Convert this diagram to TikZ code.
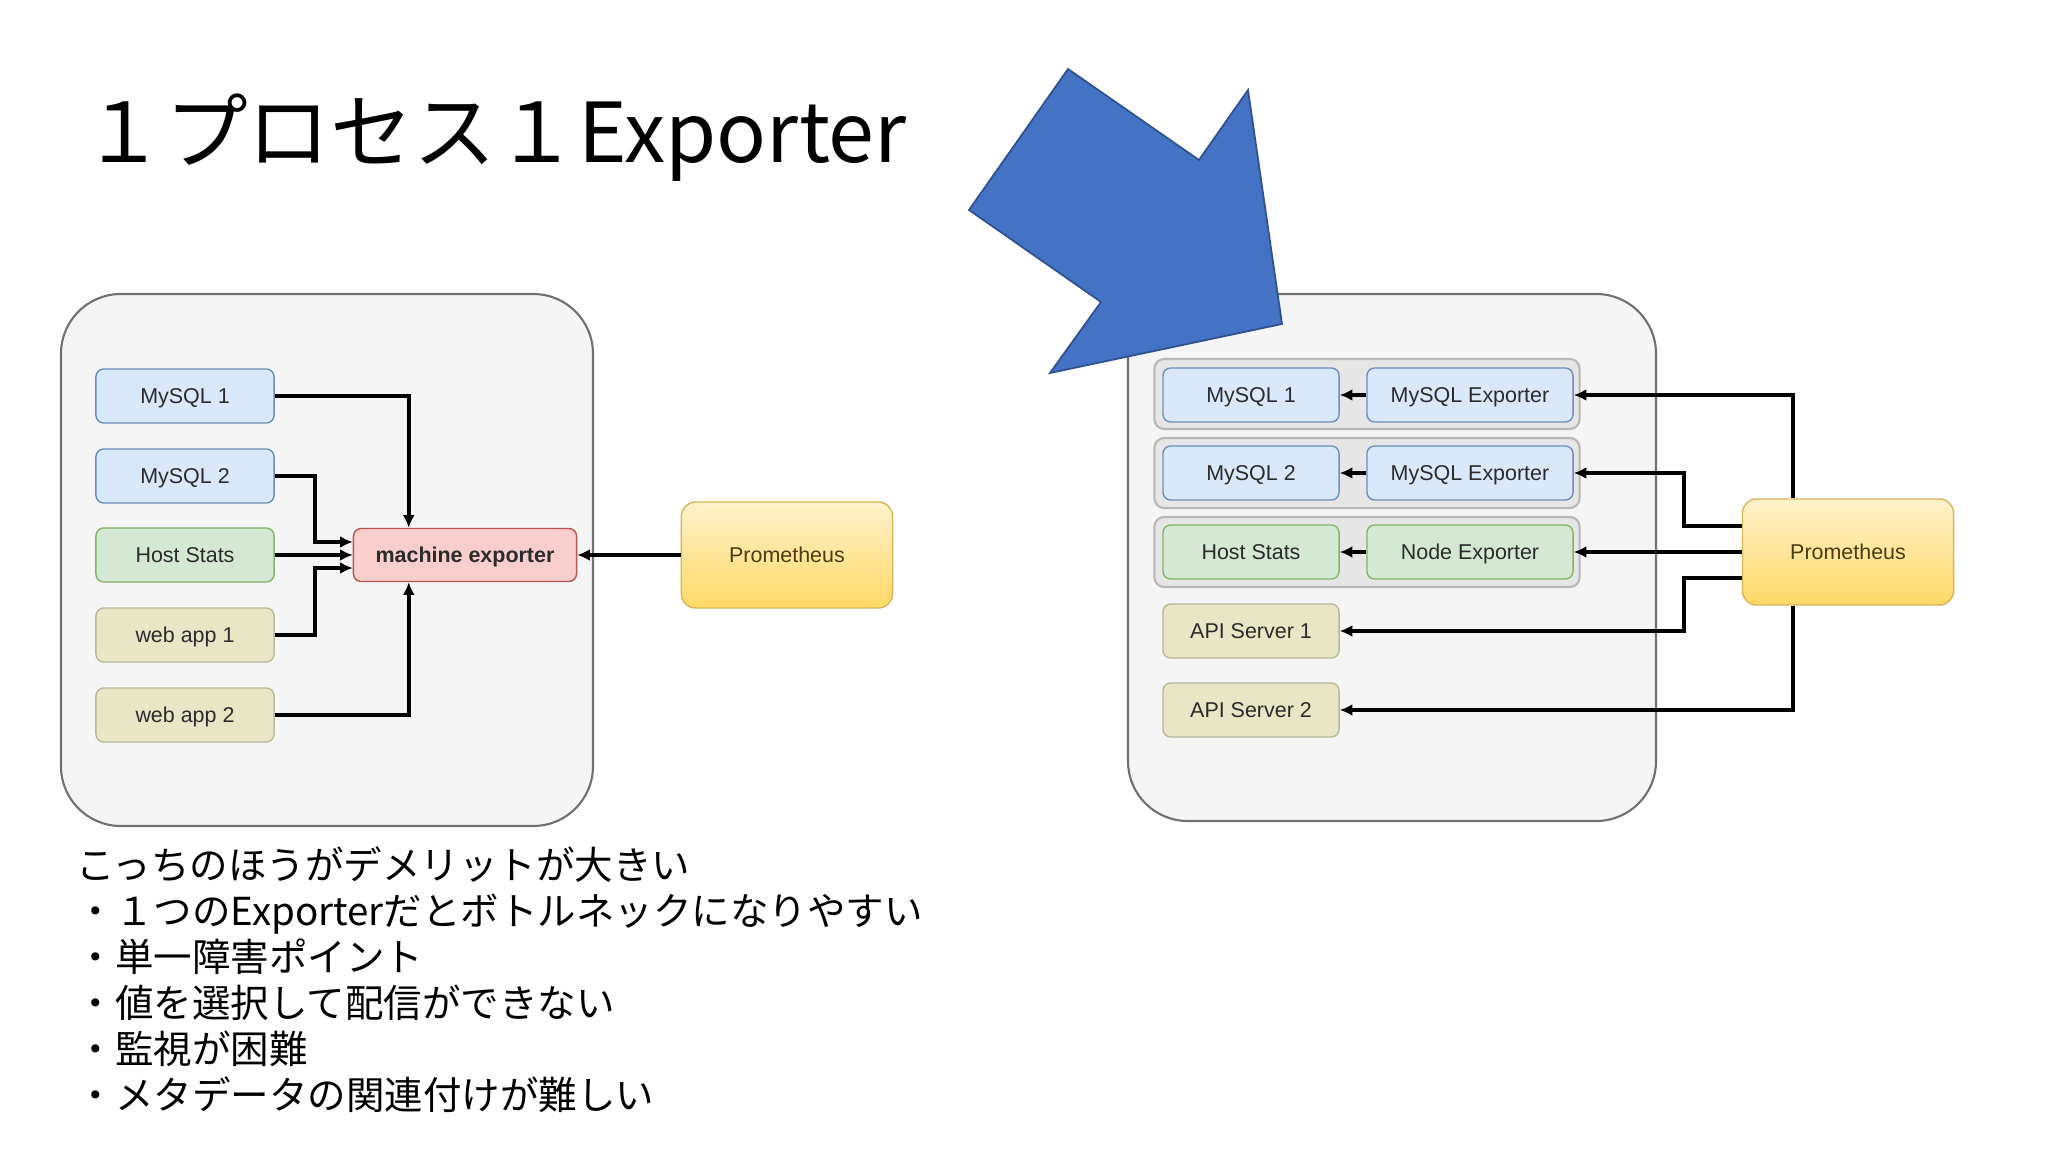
\documentclass[tikz,border=0pt]{standalone}
\usepackage{fontspec}
\setmainfont{Liberation Sans}
\newfontfamily\jpfont{Noto Sans CJK JP}
\usetikzlibrary{arrows.meta}
\definecolor{txtgray}{HTML}{2B2B2B}
\definecolor{blfill}{HTML}{DAE8FC}
\definecolor{blline}{HTML}{6C8EBF}
\definecolor{grfill}{HTML}{D5E8D4}
\definecolor{grline}{HTML}{82B366}
\definecolor{ylfill}{HTML}{E8E6C5}
\definecolor{ylline}{HTML}{B9B896}
\definecolor{rdfill}{HTML}{F8CECC}
\definecolor{rdline}{HTML}{B85450}
\definecolor{prtop}{HTML}{FFF2CC}
\definecolor{prbot}{HTML}{FFD966}
\definecolor{prline}{HTML}{D6B656}
\definecolor{prtext}{HTML}{4A3B12}
\definecolor{cfill}{HTML}{F5F5F5}
\definecolor{cline}{HTML}{707070}
\definecolor{gfill}{HTML}{E6E6E6}
\definecolor{gline}{HTML}{B8B8B8}
\definecolor{arrblue}{HTML}{4472C4}
\definecolor{arrline}{HTML}{2F528F}
\begin{document}
\begin{tikzpicture}[x=0.01cm,y=-0.01cm,
  box/.style={draw,rounded corners=2.2pt,line width=0.4pt,minimum height=0.54cm,inner sep=0pt,text height=4.4pt,text depth=0pt,text=txtgray,font=\fontsize{6.1}{7}\selectfont},
  mysqlbox/.style={box,fill=blfill,draw=blline},
  hostbox/.style={box,fill=grfill,draw=grline},
  appbox/.style={box,fill=ylfill,draw=ylline},
  expbox/.style={box,fill=rdfill,draw=rdline,font=\fontsize{6.1}{7}\selectfont\bfseries},
  prombox/.style={box,top color=prtop,bottom color=prbot,draw=prline,text=prtext,minimum width=2.11cm,minimum height=1.06cm,rounded corners=4pt},
  groupbox/.style={draw=gline,fill=gfill,rounded corners=2.8pt,line width=0.6pt,minimum width=4.25cm,minimum height=0.70cm,inner sep=0pt},
  cont/.style={draw=cline,fill=cfill,line width=0.6pt,rounded corners=17pt},
  arr/.style={draw,line width=1pt,->,>={Latex[length=3.6pt,width=3.4pt]}}
]
\useasboundingbox (0,0) rectangle (2048,1152);
\fill[white] (0,0) rectangle (2048,1152);

\node[anchor=base west,inner sep=0pt,font=\jpfont\fontsize{23.5}{28}\selectfont] (title) at (82,163) {１プロセス１Exporter};

\draw[cont] (61,294) rectangle (593,826);
\node[mysqlbox,minimum width=1.78cm] (lm1) at (185,396) {MySQL 1};
\node[mysqlbox,minimum width=1.78cm] (lm2) at (185,476) {MySQL 2};
\node[hostbox,minimum width=1.78cm] (lhs) at (185,555) {Host Stats};
\node[appbox,minimum width=1.78cm] (lw1) at (185,635) {web app 1};
\node[appbox,minimum width=1.78cm] (lw2) at (185,715) {web app 2};
\node[expbox,minimum width=2.23cm,minimum height=0.53cm] (me) at (465,555) {machine exporter};
\node[prombox] (lprom) at (787,555) {Prometheus};

\path[arr] (lm1.east) -| ([xshift=0.56cm]me.north west);
\path[arr] (lm2.east) -- ++(40,0) |- ([yshift=0.13cm]me.west);
\path[arr] (lhs.east) -- (me.west);
\path[arr] (lw1.east) -- ++(40,0) |- ([yshift=-0.13cm]me.west);
\path[arr] (lw2.east) -| ([xshift=0.56cm]me.south west);
\path[arr] (lprom.west) -- (me.east);

\draw[cont] (1128,294) rectangle (1656,821);
\node[groupbox] (g1) at (1367,394) {};
\node[groupbox] (g2) at (1367,473) {};
\node[groupbox] (g3) at (1367,552) {};
\node[mysqlbox,minimum width=1.76cm] (rm1) at (1251,395) {MySQL 1};
\node[mysqlbox,minimum width=2.06cm] (re1) at (1470,395) {MySQL Exporter};
\node[mysqlbox,minimum width=1.76cm] (rm2) at (1251,473) {MySQL 2};
\node[mysqlbox,minimum width=2.06cm] (re2) at (1470,473) {MySQL Exporter};
\node[hostbox,minimum width=1.76cm] (rhs) at (1251,552) {Host Stats};
\node[hostbox,minimum width=2.06cm] (rne) at (1470,552) {Node Exporter};
\node[appbox,minimum width=1.76cm] (ra1) at (1251,631) {API Server 1};
\node[appbox,minimum width=1.76cm] (ra2) at (1251,710) {API Server 2};
\node[prombox] (rprom) at (1848,552) {Prometheus};

\path[arr] (re1.west) -- (rm1.east);
\path[arr] (re2.west) -- (rm2.east);
\path[arr] (rne.west) -- (rhs.east);
\path[arr] ([xshift=0.51cm]rprom.north west) |- (re1.east);
\path[arr] ([yshift=0.26cm]rprom.west) -- ++(-58,0) |- (re2.east);
\path[arr] (rprom.west) -- (rne.east);
\path[arr] ([yshift=-0.26cm]rprom.west) -- ++(-58,0) |- (ra1.east);
\path[arr] ([xshift=0.51cm]rprom.south west) |- (ra2.east);

\filldraw[fill=arrblue,draw=arrline,line width=0.5pt] (1068,69) -- (1199,160) -- (1248,90) -- (1282,324) -- (1050,373) -- (1101,302) -- (969,210) -- cycle;

\node[anchor=north west,inner sep=0pt,align=left,font=\jpfont\fontsize{10.95}{13.1}\selectfont] (notes) at (76,846) {こっちのほうがデメリットが大きい\\
・１つのExporterだとボトルネックになりやすい\\
・単一障害ポイント\\
・値を選択して配信ができない\\
・監視が困難\\
・メタデータの関連付けが難しい};
\end{tikzpicture}
\end{document}
